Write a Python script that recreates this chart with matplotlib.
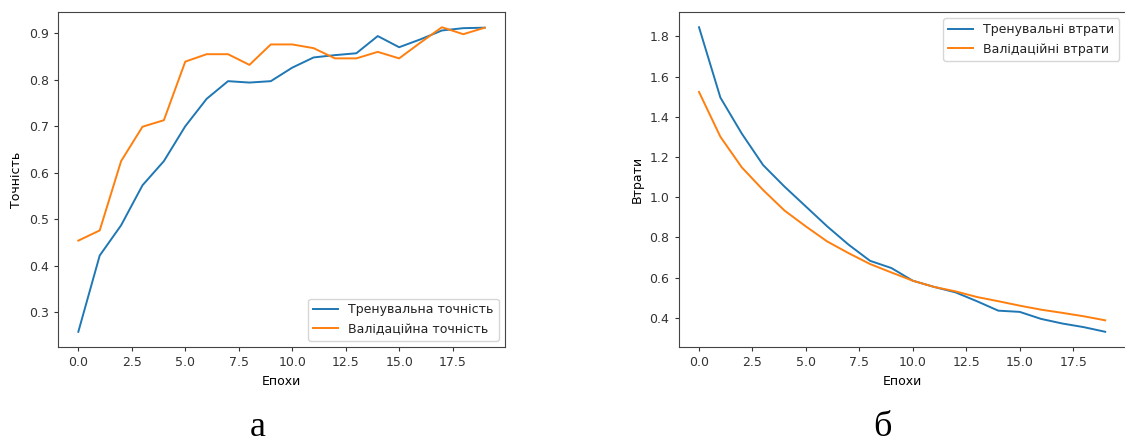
import matplotlib
matplotlib.use("Agg")
import matplotlib.pyplot as plt

epochs = list(range(20))

train_acc = [0.258, 0.422, 0.487, 0.573, 0.625, 0.700, 0.759, 0.797, 0.794, 0.797,
             0.826, 0.848, 0.853, 0.857, 0.894, 0.870, 0.887, 0.906, 0.911, 0.912]
val_acc = [0.454, 0.476, 0.625, 0.699, 0.713, 0.839, 0.855, 0.855, 0.832, 0.876,
           0.876, 0.868, 0.846, 0.846, 0.860, 0.846, 0.880, 0.913, 0.898, 0.912]

train_loss = [1.846, 1.496, 1.317, 1.160, 1.053, 0.954, 0.855, 0.764, 0.684, 0.648,
              0.585, 0.554, 0.527, 0.483, 0.436, 0.430, 0.395, 0.372, 0.354, 0.331]
val_loss = [1.524, 1.301, 1.149, 1.036, 0.934, 0.855, 0.780, 0.722, 0.668, 0.626,
            0.585, 0.554, 0.532, 0.504, 0.483, 0.461, 0.441, 0.425, 0.408, 0.388]

plt.rcParams['font.size'] = 9
plt.rcParams['lines.linewidth'] = 1.4
plt.rcParams['xtick.major.size'] = 3.2
plt.rcParams['ytick.major.size'] = 3.2
plt.rcParams['axes.edgecolor'] = '#444444'
plt.rcParams['text.color'] = '#222222'
plt.rcParams['xtick.color'] = '#333333'
plt.rcParams['ytick.color'] = '#333333'

fig = plt.figure(figsize=(11.25, 4.45), dpi=100)

# left panel: accuracy
ax1 = fig.add_axes([58 / 1125, 98 / 445, 447 / 1125, 335 / 445])
ax1.plot(epochs, train_acc, label='Тренувальна точність')
ax1.plot(epochs, val_acc, label='Валідаційна точність')
ax1.set_xlabel('Епохи')
ax1.set_ylabel('Точність')
ax1.legend(loc='lower right')

# right panel: loss
ax2 = fig.add_axes([678.7 / 1125, 98 / 445, 446.8 / 1125, 335 / 445])
ax2.plot(epochs, train_loss, label='Тренувальні втрати')
ax2.plot(epochs, val_loss, label='Валідаційні втрати')
ax2.set_xlabel('Епохи')
ax2.set_ylabel('Втрати')
ax2.legend(loc='upper right')

# panel captions
fig.text(258 / 1125, 0.003, 'а', fontsize=26, family='Liberation Serif',
         ha='center', va='bottom', color='black')
fig.text(882 / 1125, 0.003, 'б', fontsize=26, family='Liberation Serif',
         ha='center', va='bottom', color='black')

fig.savefig('out.png', dpi=100)
